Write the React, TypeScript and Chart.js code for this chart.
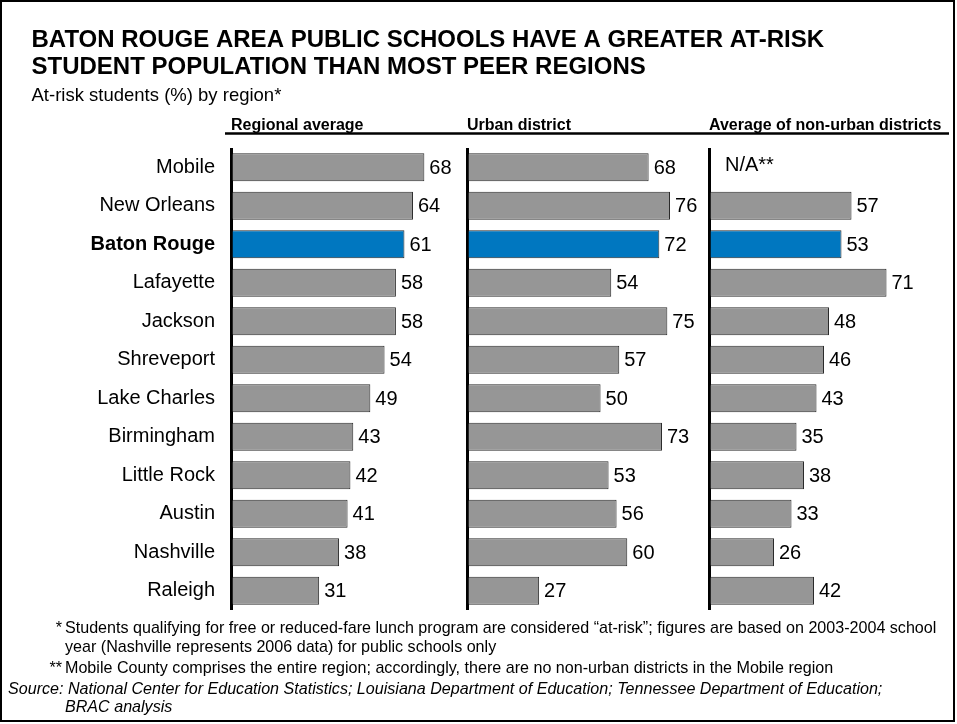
import React, { useEffect, useRef } from "react";
import { Chart, registerables } from "chart.js";

Chart.register(...registerables);

const cities = [
  "Mobile",
  "New Orleans",
  "Baton Rouge",
  "Lafayette",
  "Jackson",
  "Shreveport",
  "Lake Charles",
  "Birmingham",
  "Little Rock",
  "Austin",
  "Nashville",
  "Raleigh",
];
const regionalAverage = [68, 64, 61, 58, 58, 54, 49, 43, 42, 41, 38, 31];
const urbanDistrict = [68, 76, 72, 54, 75, 57, 50, 73, 53, 56, 60, 27];
const nonUrbanAverage: (number | null)[] = [null, 57, 53, 71, 48, 46, 43, 35, 38, 33, 26, 42];
const panelTitles = ["Regional average", "Urban district", "Average of non-urban districts"];
const highlightCity = "Baton Rouge";
const missingLabel = "N/A**";

const FONT = "Arial, 'Liberation Sans', sans-serif";
const GRAY = "#969696";
const BLUE = "#0077c0";

const barColors = cities.map((c) => (c === highlightCity ? BLUE : GRAY));

const valueLabels = {
  id: "valueLabels",
  afterDraw(chart: any) {
    const ctx = chart.ctx;
    const yScale = chart.scales.y;
    ctx.save();
    ctx.font = `20px ${FONT}`;
    ctx.fillStyle = "#000";
    ctx.textBaseline = "middle";
    ctx.textAlign = "left";
    chart.data.datasets.forEach((ds: any, di: number) => {
      const meta = chart.getDatasetMeta(di);
      const xs = chart.scales[ds.xAxisID];
      ds.data.forEach((v: number | null, i: number) => {
        const y = yScale.getPixelForValue(i);
        if (v == null) {
          ctx.fillText(missingLabel, xs.getPixelForValue(0) + 16, y - 2);
        } else {
          const el = meta.data[i];
          ctx.fillText(String(v), el.x + 5, y + 1);
        }
      });
    });
    // header underline
    const x1 = chart.scales.x1;
    const x3 = chart.scales.x3;
    ctx.strokeStyle = "#000";
    ctx.lineWidth = 2.5;
    ctx.beginPath();
    const ly = chart.chartArea.top - 14.5;
    ctx.moveTo(x1.left - 6, ly);
    ctx.lineTo(x3.right, ly);
    ctx.stroke();
    ctx.restore();
  },
};

function xAxis(title: string, max: number, weight: number, stackWeight: number) {
  return {
    type: "linear",
    position: "top",
    stack: "panels",
    stackWeight,
    weight,
    min: 0,
    max,
    z: 1,
    afterBuildTicks: (scale: any) => {
      scale.ticks = [{ value: 0 }];
    },
    ticks: { display: false },
    grid: {
      display: true,
      drawTicks: false,
      drawOnChartArea: true,
      color: "#000",
      lineWidth: 3,
    },
    border: { display: false },
    title: {
      display: true,
      text: title,
      align: "start",
      color: "#000",
      font: { family: FONT, size: 16, weight: "bold", lineHeight: 1.2 },
      padding: { top: 5.7, bottom: 13.1 },
    },
  };
}

export default function App() {
  const ref = useRef<HTMLCanvasElement | null>(null);

  useEffect(() => {
    if (!ref.current) return;
    const makeDs = (data: (number | null)[], axis: string) => ({
      data,
      xAxisID: axis,
      yAxisID: "y",
      grouped: false,
      backgroundColor: barColors,
      borderColor: "#2a2a2a",
      borderWidth: 1,
      barPercentage: 0.727,
      categoryPercentage: 1,
    });
    const chart = new Chart(ref.current, {
      type: "bar",
      data: {
        labels: cities,
        datasets: [
          makeDs(regionalAverage, "x1"),
          makeDs(urbanDistrict, "x2"),
          makeDs(nonUrbanAverage, "x3"),
        ],
      },
      options: {
        indexAxis: "y",
        responsive: false,
        animation: false,
        devicePixelRatio: 1,
        layout: { padding: { left: 31.5, right: 8, top: 0, bottom: 114 } },
        scales: {
          y: {
            type: "category",
            position: "left",
            afterFit: (scale: any) => {
              scale.width = 231 - 31.5;
            },
            grid: { display: false, drawTicks: false },
            border: { display: false },
            ticks: {
              color: "#000",
              padding: 16,
              font: (c: any) => ({
                family: FONT,
                size: 20,
                weight: cities[c.index] === highlightCity ? "bold" : "normal",
              }),
            },
          },
          x1: xAxis(panelTitles[0], 83, 3, 236),
          x2: xAxis(panelTitles[1], 90.6, 2, 242),
          x3: xAxis(panelTitles[2], 96, 1, 240),
        } as any,
        plugins: {
          legend: { display: false },
          tooltip: { enabled: false },
          title: {
            display: true,
            text: [
              "BATON ROUGE AREA PUBLIC SCHOOLS HAVE A GREATER AT-RISK",
              "STUDENT POPULATION THAN MOST PEER REGIONS",
            ],
            align: "start",
            color: "#000",
            font: { family: FONT, size: 24, weight: "bold", lineHeight: 1.108 },
            padding: { top: 27, bottom: 0 },
          },
          subtitle: {
            display: true,
            text: "At-risk students (%) by region*",
            align: "start",
            color: "#000",
            font: { family: FONT, size: 18.5, lineHeight: 1.2 },
            padding: { top: 4.7, bottom: 2.9 },
          },
        },
      } as any,
      plugins: [valueLabels],
    });
    return () => chart.destroy();
  }, []);

  const note: React.CSSProperties = {
    position: "absolute",
    fontFamily: FONT,
    fontSize: "16.1px",
    lineHeight: "18px",
    color: "#000",
    whiteSpace: "nowrap",
  };
  const marker: React.CSSProperties = { ...note, left: 0, width: 62, textAlign: "right" };

  return (
    <div
      style={{
        position: "fixed",
        left: 0,
        top: 0,
        width: 957,
        height: 724,
        background: "#fff",
        overflow: "hidden",
      }}
    >
      <canvas ref={ref} width={957} height={724} style={{ display: "block" }} />
      <div style={{ ...marker, top: 618 }}>*</div>
      <div style={{ ...note, left: 65, top: 618 }}>
        Students qualifying for free or reduced-fare lunch program are considered “at-risk”; figures are based on 2003-2004 school
      </div>
      <div style={{ ...note, left: 65, top: 637 }}>
        year (Nashville represents 2006 data) for public schools only
      </div>
      <div style={{ ...marker, top: 658 }}>**</div>
      <div style={{ ...note, left: 65, top: 658 }}>
        Mobile County comprises the entire region; accordingly, there are no non-urban districts in the Mobile region
      </div>
      <div style={{ ...note, left: 8, top: 679, fontStyle: "italic" }}>
        Source: National Center for Education Statistics; Louisiana Department of Education; Tennessee Department of Education;
      </div>
      <div style={{ ...note, left: 65, top: 697, fontStyle: "italic" }}>BRAC analysis</div>
      <div
        style={{
          position: "absolute",
          left: 0,
          top: 0,
          width: 951,
          height: 718,
          border: "2px solid #000",
          pointerEvents: "none",
        }}
      />
    </div>
  );
}
